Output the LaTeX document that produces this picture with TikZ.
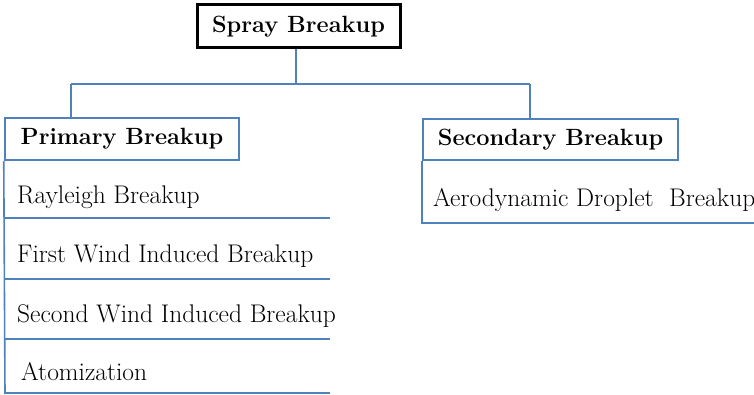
\documentclass[tikz,border=0pt]{standalone}
\usepackage{tikz}
\usetikzlibrary{calc}
\definecolor{lineblue}{RGB}{79,129,189}
\tikzset{
  head/.style={draw=lineblue,line width=2.5pt,fill=white,inner sep=0pt,
    font=\fontsize{23.5}{28}\selectfont\bfseries},
  item/.style={anchor=base west,inner sep=0pt,font=\fontsize{25.5}{30}\selectfont},
  sep/.style={draw=lineblue,line width=1.6pt}
}
\begin{document}
\begin{tikzpicture}[x=1pt,y=1pt]
            \useasboundingbox (0,0) rectangle (754,-395);
            \node[head,draw=black,line width=3pt,minimum width=203,minimum height=43] (spray) at (298.5,-26.5){Spray Breakup};
            \node[head,minimum width=234,minimum height=42] (primary) at (122,-139){Primary Breakup};
            \node[head,minimum width=255,minimum height=41] (secondary) at (550.5,-139.5){Secondary Breakup};
            \coordinate (fork) at (296,-84);
            \coordinate (pdrop) at (71,-84);
            \coordinate (sdrop) at (530,-84);
            \draw[sep] (spray.south -| fork) -- (fork);
            \draw[sep] (pdrop) -- (sdrop);
            \draw[sep] (pdrop) -- (pdrop |- primary.north);
            \draw[sep] (sdrop) -- (sdrop |- secondary.north);
            % primary list
            \node[item] (rayleigh) at (17,-204){Rayleigh Breakup};
            \node[item] (firstwind) at (17,-262){First Wind Induced Breakup};
            \node[item] (secondwind) at (17,-322){Second Wind Induced Breakup};
            \node[item] (atom) at (21,-380){Atomization};
            \coordinate (pend) at (5,-394);
            \draw[sep] (primary.south west) -- (pend);
            \foreach \y in {218,279,339,393}
              \draw[sep] (5,-\y) -- (330,-\y);
            % secondary list
            \node[item] (aero) at (433,-207){Aerodynamic Droplet\ \ Breakup};
            \coordinate (send) at (754,-223);
            \draw[sep] (secondary.south west) |- (send);
        \end{tikzpicture}
\end{document}
